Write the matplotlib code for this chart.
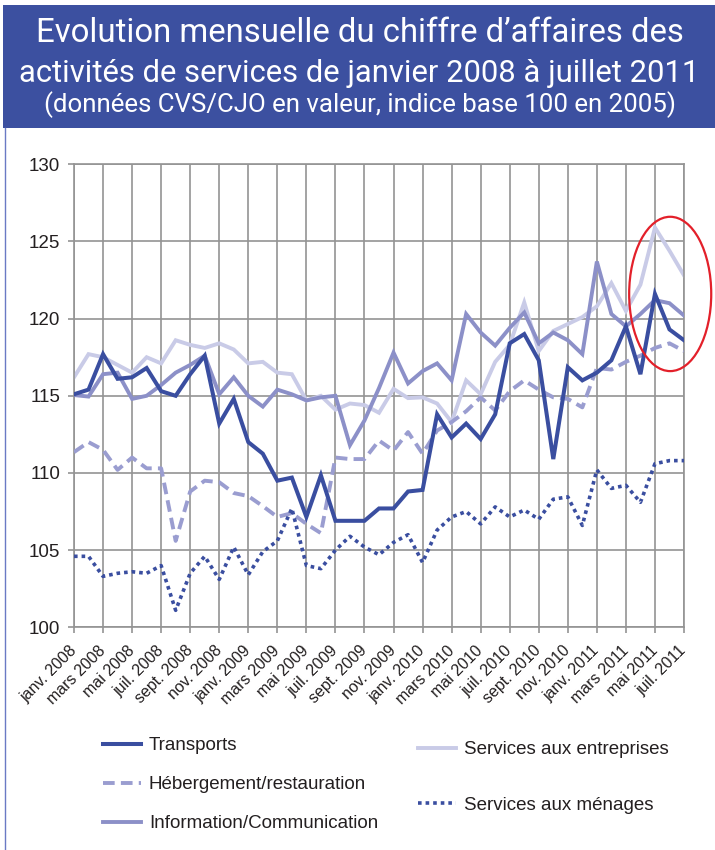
import matplotlib
matplotlib.use("Agg")
import matplotlib.pyplot as plt
from matplotlib.patches import Rectangle, Ellipse
from matplotlib.lines import Line2D
from matplotlib.transforms import ScaledTranslation

# ---- data -------------------------------------------------------------
months = ["janv.", "févr.", "mars", "avr.", "mai", "juin",
          "juil.", "août", "sept.", "oct.", "nov.", "déc."]
years = [2008, 2009, 2010, 2011]
n_points = 43
month_labels = [f"{months[i % 12]} {years[i // 12]}" for i in range(n_points)]

transports = [115.1, 115.4, 117.7, 116.1, 116.2, 116.8, 115.3, 115.0, 116.4, 117.6,
              113.2, 114.8, 112.0, 111.25, 109.5, 109.7, 107.15, 109.85, 106.9, 106.9,
              106.9, 107.7, 107.7, 108.8, 108.9, 113.8, 112.3, 113.2, 112.2, 113.8,
              118.4, 119.0, 117.3, 110.9, 116.85, 116.0, 116.5, 117.3, 119.5, 116.4,
              121.6, 119.3, 118.6]

hebergement = [111.35, 112.0, 111.5, 110.2, 111.0, 110.3, 110.3, 105.6, 108.8, 109.5,
               109.4, 108.7, 108.5, 107.85, 107.15, 107.4, 106.7, 106.1, 111.0, 110.9,
               110.9, 112.1, 111.45, 112.65, 111.25, 112.75, 113.3, 114.0, 114.9, 114.05,
               115.3, 116.0, 115.4, 114.9, 114.8, 114.25, 116.8, 116.7, 117.2, 117.6,
               118.1, 118.4, 117.9]

information = [115.05, 114.95, 116.4, 116.5, 114.8, 115.0, 115.7, 116.5, 117.0, 117.6,
               115.1, 116.2, 115.0, 114.3, 115.4, 115.1, 114.7, 114.9, 115.0, 111.8,
               113.4, 115.5, 117.8, 115.8, 116.6, 117.1, 116.0, 120.3, 119.1, 118.25,
               119.4, 120.4, 118.4, 119.1, 118.6, 117.7, 123.7, 120.3, 119.5, 120.3,
               121.2, 121.0, 120.2]

entreprises = [116.2, 117.7, 117.5, 117.0, 116.5, 117.5, 117.1, 118.6, 118.3, 118.1,
               118.4, 118.0, 117.1, 117.2, 116.5, 116.4, 114.7, 115.0, 114.1, 114.5,
               114.4, 113.9, 115.45, 114.85, 114.9, 114.5, 113.3, 116.0, 115.1, 117.2,
               118.3, 121.05, 117.9, 119.2, 119.65, 120.1, 120.8, 122.3, 120.5, 122.2,
               125.9, 124.4, 122.8]

menages = [104.6, 104.6, 103.3, 103.5, 103.6, 103.5, 104.0, 101.1, 103.5, 104.6,
           103.1, 105.2, 103.4, 104.9, 105.6, 107.7, 104.0, 103.8, 105.0, 105.9,
           105.2, 104.7, 105.5, 106.0, 104.2, 106.3, 107.15, 107.5, 106.7, 107.8,
           107.15, 107.6, 107.0, 108.3, 108.45, 106.6, 110.2, 109.0, 109.2, 108.1,
           110.6, 110.8, 110.8]

series_labels = ["Transports", "Hébergement/restauration", "Information/Communication",
                 "Services aux entreprises", "Services aux ménages"]
y_ticks = [100, 105, 110, 115, 120, 125, 130]
title_lines = ["Evolution mensuelle du chiffre d\u2019affaires des",
               "activités de services de janvier 2008 à juillet 2011",
               "(données CVS/CJO en valeur, indice base 100 en 2005)"]

# ---- styles -----------------------------------------------------------
C_DARK = "#3a4ea0"
C_MED = "#9a9dd0"
C_INFO = "#8c90c8"
C_LIGHT = "#c9cbe7"
GRID = "#949494"
TXT = "#231f20"

W, H = 715, 850
fig = plt.figure(figsize=(W / 100, H / 100), dpi=100)
fig.patch.set_facecolor("white")
renderer = fig.canvas.get_renderer()

# title banner
fig.add_artist(Rectangle((3 / W, 1 - 128 / H), 1, 123 / H, transform=fig.transFigure,
                         facecolor="#3c50a0", edgecolor="none", zorder=0))
title_font = "Roboto"
# (baseline px from top, target width px, start size)
title_layout = [(42, 648, 24), (82, 680, 24), (112, 632, 15)]
for txt, (base, target_w, fs) in zip(title_lines, title_layout):
    t = fig.text(0.503, 1 - base / H, txt, color="white", fontsize=fs,
                 family=title_font, ha="center", va="baseline")
    w = t.get_window_extent(renderer).width
    t.set_fontsize(fs * target_w / w)

# left frame line
fig.add_artist(Line2D([4.5 / W, 4.5 / W], [0, 1 - 128 / H], transform=fig.transFigure,
                      color="#6a7ac4", lw=1.0))

# axes
ax_l, ax_r, ax_t, ax_b = 74, 684, 164.3, 627.3
ax = fig.add_axes([ax_l / W, 1 - ax_b / H, (ax_r - ax_l) / W, (ax_b - ax_t) / H])
x = list(range(n_points))

lw = 2.8
l_ent, = ax.plot(x, entreprises, color=C_LIGHT, lw=lw, zorder=2, label=series_labels[3],
                 solid_joinstyle="miter")
l_info, = ax.plot(x, information, color=C_INFO, lw=lw, zorder=3, label=series_labels[2],
                  solid_joinstyle="miter")
l_heb, = ax.plot(x, hebergement, color=C_MED, lw=lw, zorder=3, label=series_labels[1],
                 linestyle=(0, (3.0, 1.6)))
l_men, = ax.plot(x, menages, color=C_DARK, lw=2.6, zorder=4, label=series_labels[4],
                 linestyle=(0, (1.0, 1.1)))
l_tr, = ax.plot(x, transports, color=C_DARK, lw=2.9, zorder=5, label=series_labels[0],
                solid_joinstyle="miter")

ax.set_xlim(0, n_points - 1)
ax.set_ylim(100, 130)
ax.set_yticks(y_ticks)
ax.set_yticklabels([str(v) for v in y_ticks], fontsize=13.5, color=TXT,
                   family="Liberation Sans")
tick_pos = list(range(0, n_points, 2))
ax.set_xticks(tick_pos)
ax.set_xticklabels([month_labels[i] for i in tick_pos], rotation=45, ha="right",
                   va="center", rotation_mode="anchor", fontsize=11.5, color=TXT,
                   family="Liberation Sans")
shift = ScaledTranslation(8 / 100, 0, fig.dpi_scale_trans)
for lab in ax.get_xticklabels():
    lab.set_transform(lab.get_transform() + shift)
ax.grid(True, color=GRID, lw=1.2, zorder=1)
ax.set_axisbelow(True)
for s in ax.spines.values():
    s.set_color(GRID)
    s.set_linewidth(1.2)
ax.tick_params(axis="both", colors=GRID, length=4, width=1.2, labelcolor=TXT)
ax.tick_params(axis="x", pad=11)
ax.tick_params(axis="y", pad=6)

# red highlight ellipse
ax.add_patch(Ellipse((41.05, 121.6), 5.65, 10.0, fill=False, edgecolor="#e3202a",
                     lw=1.6, clip_on=False, zorder=6))

# legends
leg_font = {"family": "Liberation Sans", "size": 13.5}
leg1 = fig.legend([l_tr, l_heb, l_info], series_labels[:3], loc="upper left",
                  bbox_to_anchor=(103 / W, 1 - 737 / H), frameon=False, prop=leg_font,
                  labelspacing=1.17, handlelength=2.0, handletextpad=0.45,
                  borderpad=0, borderaxespad=0, labelcolor=TXT)
leg2 = fig.legend([l_ent, l_men], [series_labels[3], series_labels[4]], loc="upper left",
                  bbox_to_anchor=(418 / W, 1 - 741 / H), frameon=False, prop=leg_font,
                  labelspacing=2.05, handlelength=2.0, handletextpad=0.45,
                  borderpad=0, borderaxespad=0, labelcolor=TXT)

fig.savefig("out.png", dpi=100)
